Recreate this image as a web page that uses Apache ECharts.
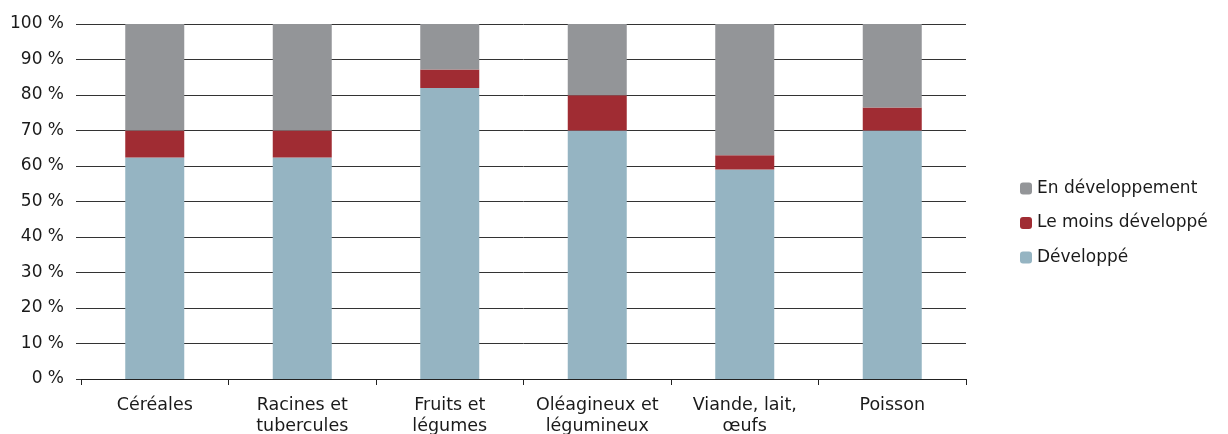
<!DOCTYPE html>
<html>
<head>
<meta charset="utf-8">
<script src="https://cdn.jsdelivr.net/npm/echarts@6/dist/echarts.min.js"></script>
<style>
  html, body { margin: 0; padding: 0; background: #fff; }
  #chart { width: 1228px; height: 434px; }
</style>
</head>
<body>
<div id="chart"></div>
<script>
// catégories (axe des x)
var categories = ['Céréales', 'Racines et\ntubercules', 'Fruits et\nlégumes', 'Oléagineux et\nlégumineux', 'Viande, lait,\nœufs', 'Poisson']
// parts en % (empilées jusqu'à 100)
var developpe = [62.4, 62.4, 82.0, 70.0, 59.0, 70.0]
var moinsDeveloppe = [7.6, 7.6, 5.2, 9.9, 4.0, 6.5]
var enDeveloppement = [30.0, 30.0, 12.8, 20.1, 37.0, 23.5]

var font = 'DejaVu Sans'

var myChart = echarts.init(document.getElementById('chart'))
myChart.setOption({
  animation: false,
  textStyle: { fontFamily: font },
  grid: { left: 81, right: 262, top: 24, bottom: 55, outerBoundsMode: 'none', containLabel: false },
  legend: {
    orient: 'vertical',
    left: 1015,
    top: 175,
    itemWidth: 12,
    itemHeight: 12,
    itemGap: 17.5,
    textStyle: { fontFamily: font, fontSize: 17, color: '#1a1a1a' },
    data: ['En développement', 'Le moins développé', 'Développé']
  },
  xAxis: {
    type: 'category',
    data: categories,
    axisLine: { lineStyle: { color: '#222', width: 1 } },
    axisTick: { show: true, length: 6, lineStyle: { color: '#222' } },
    axisLabel: { color: '#1a1a1a', fontSize: 17.5, lineHeight: 21, margin: 16, interval: 0 }
  },
  yAxis: {
    type: 'value',
    min: 0,
    max: 100,
    interval: 10,
    axisLine: { show: false },
    axisTick: { show: true, length: 5, lineStyle: { color: '#333' } },
    splitLine: { lineStyle: { color: '#333', width: 1 } },
    axisLabel: { color: '#1a1a1a', fontSize: 17, margin: 17, formatter: '{value} %' }
  },
  series: [
    {
      name: 'Développé',
      type: 'bar',
      stack: 'total',
      barWidth: 59,
      itemStyle: { color: '#95b4c2' },
      data: developpe
    },
    {
      name: 'Le moins développé',
      type: 'bar',
      stack: 'total',
      barWidth: 59,
      itemStyle: { color: '#a02c33' },
      data: moinsDeveloppe
    },
    {
      name: 'En développement',
      type: 'bar',
      stack: 'total',
      barWidth: 59,
      itemStyle: { color: '#939598' },
      data: enDeveloppement
    }
  ]
})
</script>
</body>
</html>
